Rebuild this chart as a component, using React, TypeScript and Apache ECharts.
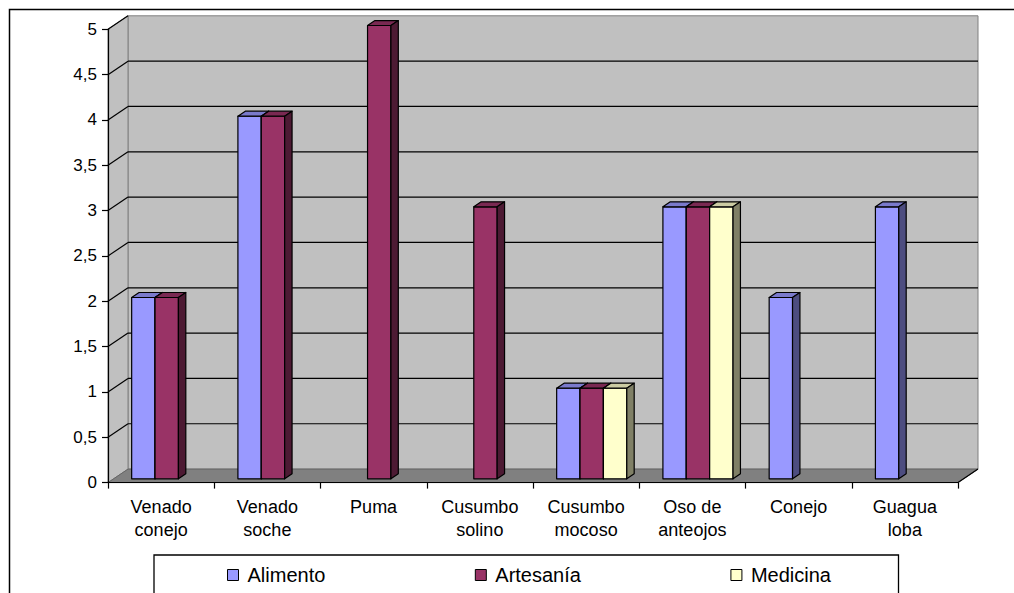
import React, { useEffect, useRef } from "react";
import * as echarts from "echarts";

const categories = [
  "Venado\nconejo",
  "Venado\nsoche",
  "Puma",
  "Cusumbo\nsolino",
  "Cusumbo\nmocoso",
  "Oso de\nanteojos",
  "Conejo",
  "Guagua\nloba",
];
const alimento = [2, 4, null, null, 1, 3, 2, 3];
const artesania = [2, 4, 5, 3, 1, 3, null, null];
const medicina = [null, null, null, null, 1, 3, null, null];
const yTicks = [0, 0.5, 1, 1.5, 2, 2.5, 3, 3.5, 4, 4.5, 5];
const seriesNames = ["Alimento", "Artesanía", "Medicina"];
const seriesColors = ["#9999ff", "#993366", "#ffffcc"];

// 3D projection constants (depth of the plot box)
const DX = 20;
const DY = -13.5;
const BAR_FRONT = 0.28; // depth fraction of bar front face
const BAR_DEPTH = 0.37; // depth fraction of bar thickness
const BAR_FRAC = 0.22; // bar width as fraction of category band

function shade(hex: string, f: number) {
  const n = parseInt(hex.slice(1), 16);
  const r = Math.round(((n >> 16) & 255) * f);
  const g = Math.round(((n >> 8) & 255) * f);
  const b = Math.round((n & 255) * f);
  return "rgb(" + r + "," + g + "," + b + ")";
}

function barSeries(name: string, values: (number | null)[], slot: number, color: string) {
  const data: number[][] = [];
  values.forEach((v, i) => {
    if (v !== null && v !== undefined) data.push([i, v]);
  });
  return {
    type: "custom",
    name,
    z: 3,
    itemStyle: { color },
    encode: { x: 0, y: 1 },
    data,
    renderItem: (params: any, api: any) => {
      const cat = api.value(0);
      const val = api.value(1);
      const top = api.coord([cat, val]);
      const bot = api.coord([cat, 0]);
      const band = api.size([1, 0])[0];
      const bw = band * BAR_FRAC;
      const fx = DX * BAR_FRONT;
      const fy = DY * BAR_FRONT;
      const dx = DX * BAR_DEPTH;
      const dy = DY * BAR_DEPTH;
      const xL = top[0] - 1.5 * bw + slot * bw + fx;
      const xR = xL + bw;
      const yT = top[1] + fy;
      const yB = bot[1] + fy;
      const st = { stroke: "#000", lineWidth: 1.2, lineJoin: "round" };
      return {
        type: "group",
        children: [
          {
            type: "polygon",
            shape: { points: [[xL, yT], [xR, yT], [xR, yB], [xL, yB]] },
            style: { ...st, fill: color },
          },
          {
            type: "polygon",
            shape: { points: [[xL, yT], [xL + dx, yT + dy], [xR + dx, yT + dy], [xR, yT]] },
            style: { ...st, fill: shade(color, 0.8) },
          },
          {
            type: "polygon",
            shape: { points: [[xR, yT], [xR + dx, yT + dy], [xR + dx, yB + dy], [xR, yB]] },
            style: { ...st, fill: shade(color, 0.5) },
          },
        ],
      };
    },
  };
}

const wallsSeries = {
  type: "custom",
  name: "walls",
  z: 1,
  silent: true,
  encode: { x: 0, y: 1 },
  data: [[0, 0]],
  renderItem: (params: any, api: any) => {
    const cs = params.coordSys;
    const x0 = cs.x;
    const x1 = cs.x + cs.width;
    const yb = api.coord([0, yTicks[0]])[1];
    const yt = api.coord([0, yTicks[yTicks.length - 1]])[1];
    const children: any[] = [];
    // back wall
    children.push({
      type: "polygon",
      shape: { points: [[x0 + DX, yt + DY], [x1 + DX, yt + DY], [x1 + DX, yb + DY], [x0 + DX, yb + DY]] },
      style: { fill: "#c0c0c0", stroke: "#808080", lineWidth: 1 },
    });
    // left wall
    children.push({
      type: "polygon",
      shape: { points: [[x0, yt], [x0 + DX, yt + DY], [x0 + DX, yb + DY], [x0, yb]] },
      style: { fill: "#c0c0c0", stroke: "#808080", lineWidth: 1 },
    });
    // floor
    children.push({
      type: "polygon",
      shape: { points: [[x0, yb], [x0 + DX, yb + DY], [x1 + DX, yb + DY], [x1, yb]] },
      style: { fill: "#808080", stroke: "#666666", lineWidth: 1 },
    });
    children.push({
      type: "line",
      shape: { x1: x1, y1: yb, x2: x1 + DX, y2: yb + DY },
      style: { stroke: "#000", lineWidth: 1.2 },
    });
    yTicks.forEach((v) => {
      if (v <= 0) return;
      const y = api.coord([0, v])[1];
      if (v < yTicks[yTicks.length - 1]) {
        children.push({
          type: "line",
          shape: { x1: x0 + DX, y1: y + DY, x2: x1 + DX, y2: y + DY },
          style: { stroke: "#000", lineWidth: 1.2 },
        });
      }
      children.push({
        type: "line",
        shape: { x1: x0, y1: y, x2: x0 + DX, y2: y + DY },
        style: { stroke: "#000", lineWidth: 1.2 },
      });
    });
    return { type: "group", children };
  },
};

export default function App() {
  const ref = useRef<HTMLDivElement>(null);
  useEffect(() => {
    if (!ref.current) return;
    const chart = echarts.init(ref.current, null, { renderer: "svg" });
    const font = "'Liberation Sans', Arial, sans-serif";
    chart.setOption({
      animation: false,
      backgroundColor: "#ffffff",
      grid: { left: 108, top: 29.3, width: 850, height: 453.3 },
      xAxis: {
        type: "category",
        data: categories,
        z: 5,
        boundaryGap: true,
        axisLine: { show: true, lineStyle: { color: "#000", width: 1.2 } },
        axisTick: { show: true, length: 6, lineStyle: { color: "#000", width: 1.2 } },
        axisLabel: {
          interval: 0,
          margin: 13,
          color: "#000",
          fontFamily: font,
          fontSize: 18,
          lineHeight: 23,
        },
        splitLine: { show: false },
      },
      yAxis: {
        type: "value",
        min: 0,
        max: 5,
        interval: 0.5,
        z: 5,
        axisLine: { show: true, lineStyle: { color: "#000", width: 1.2 } },
        axisTick: { show: true, length: 6, lineStyle: { color: "#000", width: 1.2 } },
        axisLabel: {
          margin: 11,
          color: "#000",
          fontFamily: font,
          fontSize: 17,
          formatter: (v: number) => String(v).replace(".", ","),
        },
        splitLine: { show: false },
      },
      legend: {
        data: seriesNames,
        left: 227,
        top: 565,
        padding: 0,
        itemGap: 149.5,
        itemWidth: 11,
        itemHeight: 11,
        icon: "rect",
        itemStyle: { borderColor: "#000", borderWidth: 1 },
        textStyle: {
          color: "#000",
          fontFamily: font,
          fontSize: 20,
          lineHeight: 20,
          padding: [0, 0, 0, 4],
        },
        selectedMode: false,
      },
      graphic: [
        {
          type: "rect",
          silent: true,
          shape: { x: 9.5, y: 9.5, width: 1100, height: 700 },
          style: { fill: "none", stroke: "#000", lineWidth: 1.5 },
        },
        {
          type: "rect",
          silent: true,
          shape: { x: 154, y: 555, width: 744.5, height: 100 },
          style: { fill: "none", stroke: "#000", lineWidth: 1.3 },
        },
      ],
      series: [
        wallsSeries,
        barSeries(seriesNames[0], alimento, 0, seriesColors[0]),
        barSeries(seriesNames[1], artesania, 1, seriesColors[1]),
        barSeries(seriesNames[2], medicina, 2, seriesColors[2]),
      ],
    });
    return () => chart.dispose();
  }, []);
  return (
    <div
      ref={ref}
      style={{ position: "fixed", left: 0, top: 0, width: 1014, height: 593, background: "#fff" }}
    />
  );
}
